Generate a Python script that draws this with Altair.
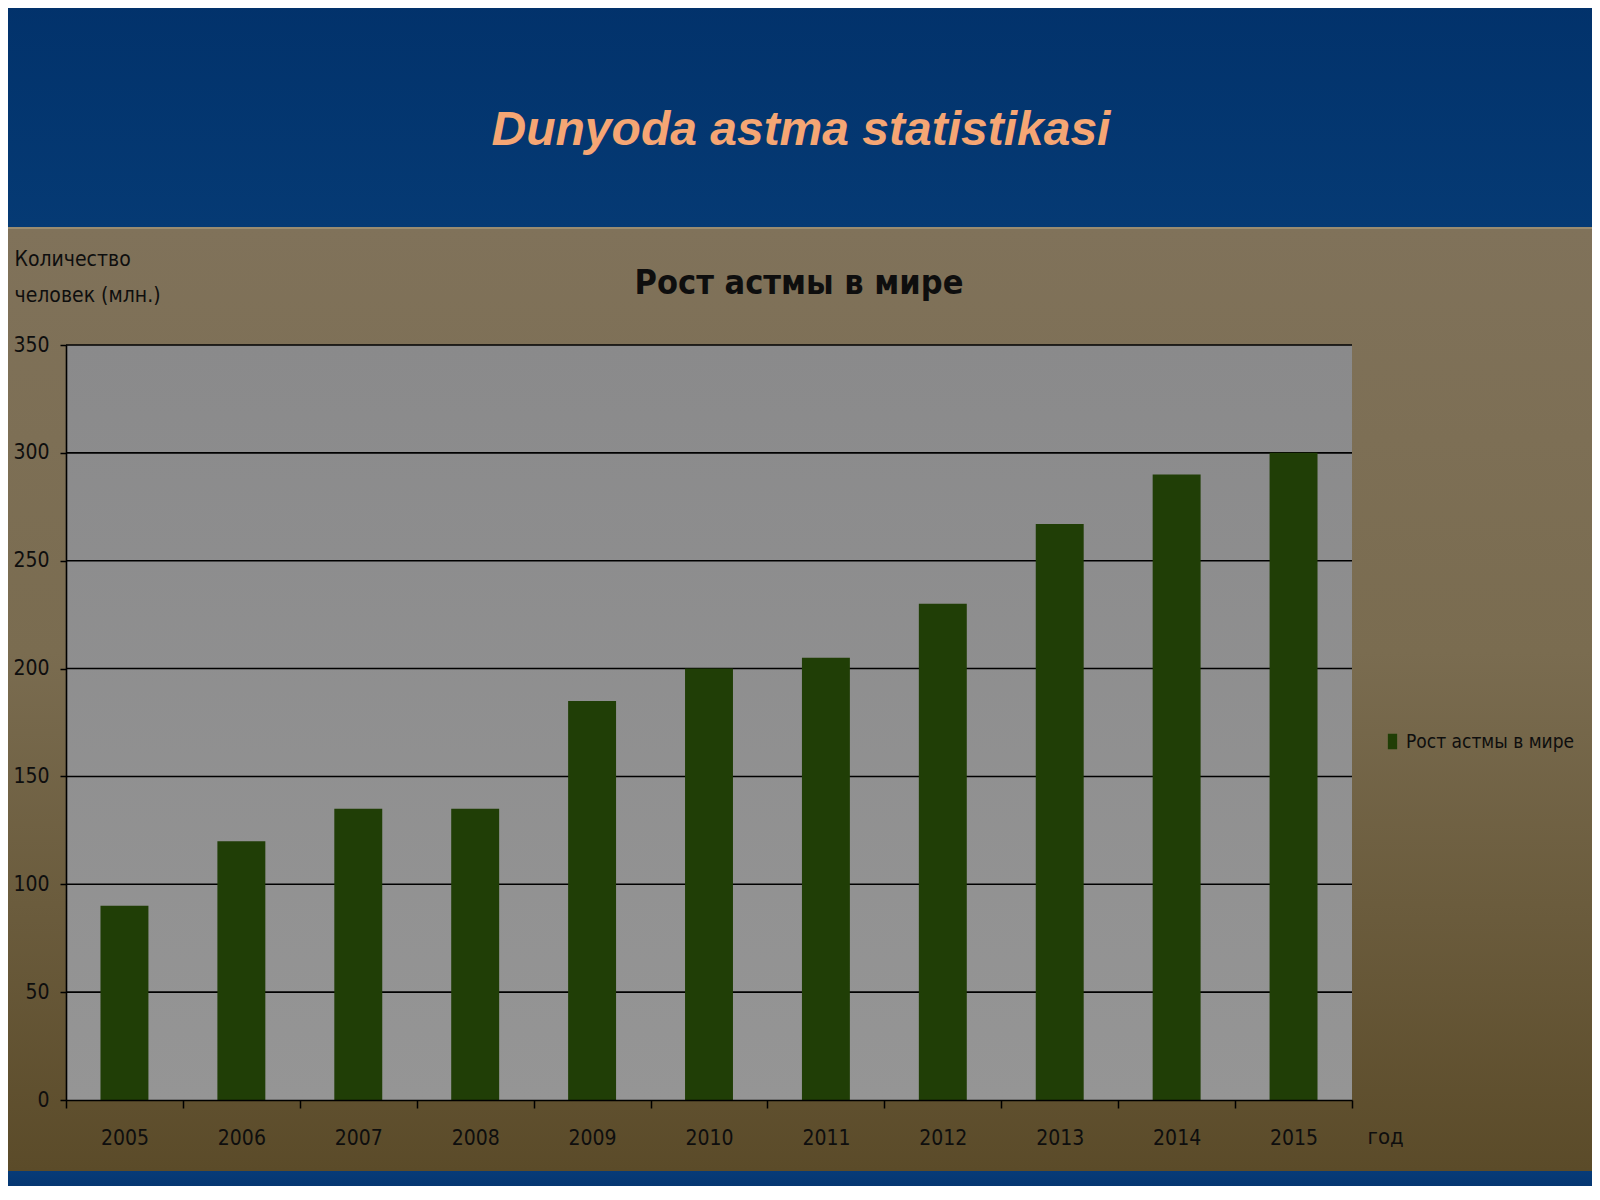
import altair as alt
import pandas as pd

# ---- data ----
years = ["2005", "2006", "2007", "2008", "2009", "2010", "2011", "2012", "2013", "2014", "2015"]
values = [90, 120, 135, 135, 185, 200, 205, 230, 267, 290, 300]
y_ticks = [0, 50, 100, 150, 200, 250, 300, 350]
grid_values = [50, 100, 150, 200, 250, 300, 350]
series_name = "Рост астмы в мире"
slide_title = "Dunyoda astma statistikasi"
chart_title = "Рост астмы в мире"
y_title = ["Количество", "человек (млн.)"]
x_title = "год"

# ---- layout (plot area and padding) ----
W, H = 1286, 755
PAD = {"left": 58, "top": 337, "right": 240, "bottom": 86}

NARROW = "DejaVu Sans Condensed, Liberation Sans, sans-serif"
TXT = "#0e0e0e"

df = pd.DataFrame({"year": years, "value": values, "series": [series_name] * len(years)})
grid_df = pd.DataFrame({"v": grid_values})
one = alt.Data(values=[{}])

x_scale = alt.Scale(domain=years, paddingInner=0, paddingOuter=0)
y_scale = alt.Scale(domain=[0, 350], nice=False, zero=True)

y_axis = alt.Axis(
    values=y_ticks,
    title=y_title,
    titleAngle=0,
    titleAlign="left",
    titleBaseline="alphabetic",
    titleX=-52,
    titleY=-80,
    titleLineHeight=36,
    titleFont=NARROW,
    titleFontSize=21,
    titleFontWeight="normal",
    titleColor=TXT,
    labelFont=NARROW,
    labelFontSize=21,
    labelColor=TXT,
    labelPadding=11,
    tickSize=6,
    tickColor="#000000",
    tickWidth=1.5,
    domainColor="#000000",
    domainWidth=1.6,
    grid=False,
    zindex=1,
)

x_axis = alt.Axis(
    title=x_title,
    titleX=1301,
    titleY=36,
    titleAlign="left",
    titleBaseline="middle",
    titleFont=NARROW,
    titleFontSize=22,
    titleFontWeight="normal",
    titleColor=TXT,
    labelAngle=0,
    labelFont=NARROW,
    labelFontSize=21,
    labelColor=TXT,
    labelPadding=19,
    tickSize=8,
    tickColor="#000000",
    tickWidth=1.5,
    tickBand="extent",
    domainColor="#000000",
    domainWidth=1.6,
    grid=False,
    zindex=1,
)


def grad(stops, vertical=True):
    return alt.LinearGradient(
        gradient="linear",
        stops=[alt.GradientStop(color=c, offset=o) for o, c in stops],
        x1=0, y1=0, x2=0 if vertical else 1, y2=1 if vertical else 0,
    )


# slide backgrounds
top_band = alt.Chart(one).mark_rect(fill=grad([(0, "#02326b"), (1, "#053a74")])).encode(
    x=alt.value(-70), x2=alt.value(1540), y=alt.value(-345), y2=alt.value(-118)
)
brown = alt.Chart(one).mark_rect(
    fill=grad([(0, "#80725a"), (0.45, "#7a6c50"), (1, "#5b4b29")])
).encode(x=alt.value(-70), x2=alt.value(1540), y=alt.value(-118), y2=alt.value(826))
sep_line = alt.Chart(one).mark_rect(fill="#9a8c70").encode(
    x=alt.value(-70), x2=alt.value(1540), y=alt.value(-118), y2=alt.value(-116)
)
bottom_band = alt.Chart(one).mark_rect(fill=grad([(0, "#073b78"), (1, "#02316a")])).encode(
    x=alt.value(-70), x2=alt.value(1540), y=alt.value(826), y2=alt.value(860)
)
plot_bg = alt.Chart(one).mark_rect(
    fill=grad([(0, "#8a8a8b"), (1, "#959595")])
).encode(x=alt.value(0), x2=alt.value(W), y=alt.value(0), y2=alt.value(H))

grid = alt.Chart(grid_df).mark_rule(color="#000000", strokeWidth=1.6).encode(
    y=alt.Y("v:Q", scale=y_scale, axis=y_axis)
)

bars = alt.Chart(df).mark_bar(width={"band": 0.41}).encode(
    x=alt.X("year:N", scale=x_scale, sort=years, axis=x_axis),
    y=alt.Y("value:Q", scale=y_scale, axis=y_axis),
    color=alt.Color(
        "series:N",
        scale=alt.Scale(range=["#203e06"]),
        legend=alt.Legend(
            title=None,
            orient="none",
            legendX=1317,
            legendY=387,
            symbolType="M-0.6,-1L0.6,-1L0.6,1L-0.6,1Z",
            symbolSize=240,
            symbolStrokeWidth=0,
            symbolFillColor="#2c5208",
            labelFont=NARROW,
            labelFontSize=19,
            labelColor=TXT,
            labelOffset=4,
            labelLimit=0,
            padding=0,
        ),
    ),
)

title_main = alt.Chart(one).mark_text(
    text=slide_title,
    font="Liberation Sans, Arial, sans-serif",
    fontSize=48,
    fontStyle="italic",
    fontWeight="bold",
    color="#f5a674",
    align="center",
    baseline="middle",
).encode(x=alt.value(735), y=alt.value(-214))

title_chart = alt.Chart(one).mark_text(
    text=chart_title,
    font=NARROW,
    fontSize=34,
    fontWeight="bold",
    color="#0e0e0e",
    align="center",
    baseline="middle",
).encode(x=alt.value(733), y=alt.value(-61))

chart = (
    alt.layer(top_band, brown, sep_line, bottom_band, plot_bg, grid, bars, title_main, title_chart)
    .properties(
        width=W,
        height=H,
        padding=PAD,
        autosize=alt.AutoSizeParams(type="none"),
        background="#80725a",
    )
    .configure_view(stroke=None)
)

chart.save("out.html", embed_options={"renderer": "svg", "actions": False})
